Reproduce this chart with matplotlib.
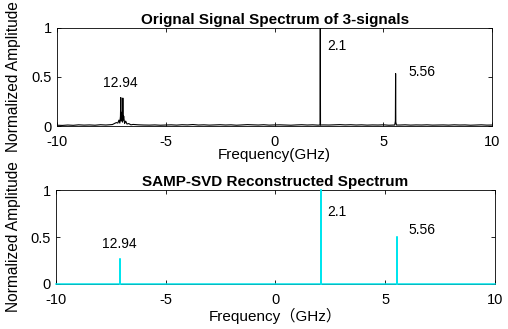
# -*- coding: utf-8 -*-
"""
original vs SAMP-SVD reconstructed spectrum of 3 signals
"""

import numpy as np
import matplotlib.pyplot as plt

plt.rcParams['font.family'] = ['Liberation Sans', 'Noto Sans CJK SC']
plt.rcParams['axes.unicode_minus'] = False

# noise floor of the original spectrum, one value every 0.25 GHz from -10 to 10
floor_amp = [0.008, 0.006, 0.010, 0.007, 0.012, 0.009, 0.011, 0.008, 0.013, 0.010,
             0.014, 0.012, 0.018, 0.020, 0.016, 0.012, 0.010, 0.009, 0.011, 0.008,
             0.010, 0.012, 0.009, 0.013, 0.011, 0.015, 0.010, 0.012, 0.009, 0.011,
             0.013, 0.010, 0.012, 0.008, 0.011, 0.014, 0.012, 0.010, 0.013, 0.009,
             0.011, 0.012, 0.010, 0.008, 0.011, 0.013, 0.010, 0.012, 0.009, 0.011,
             0.010, 0.012, 0.014, 0.011, 0.013, 0.010, 0.012, 0.009, 0.011, 0.010,
             0.012, 0.008, 0.011, 0.010, 0.012, 0.009, 0.011, 0.010, 0.012, 0.009,
             0.010, 0.011, 0.009, 0.012, 0.010, 0.011, 0.008, 0.010, 0.012, 0.009,
             0.010]

# peak regions of the original spectrum (GHz, normalized amplitude)
peak_freq = [-7.45, -7.36, -7.27, -7.20, -7.15, -7.11, -7.08, -7.065, -7.05, -7.02,
             -6.985, -6.97, -6.955, -6.93, -6.89, -6.84, -6.78, -6.70, -6.60,
             2.09, 2.10, 2.11,
             5.52, 5.55, 5.56, 5.57, 5.60]
peak_amp = [0.015, 0.025, 0.035, 0.030, 0.060, 0.030, 0.100, 0.290, 0.050, 0.140,
            0.040, 0.285, 0.060, 0.100, 0.025, 0.050, 0.020, 0.025, 0.012,
            0.010, 1.000, 0.010,
            0.010, 0.050, 0.535, 0.040, 0.010]

# reconstructed spectrum: single lines
rec_freq = [-7.06, 2.10, 5.56]
rec_amp = [0.27, 1.00, 0.50]

labels = ['12.94', '2.1', '5.56']

# build the original trace
floor_freq = np.linspace(-10, 10, len(floor_amp))
keep = np.ones(len(floor_freq), bool)
for lo, hi in [(-7.5, -6.55), (2.0, 2.2), (5.45, 5.65)]:
    keep &= ~((floor_freq > lo) & (floor_freq < hi))
orig_f = np.concatenate([floor_freq[keep], peak_freq])
orig_a = np.concatenate([np.array(floor_amp)[keep], peak_amp])
order = np.argsort(orig_f)
orig_f, orig_a = orig_f[order], orig_a[order]

# reconstructed trace as stems on a zero baseline
rf = [-10.0]
ra = [0.0]
for f, a in zip(rec_freq, rec_amp):
    rf += [f, f, f]
    ra += [0.0, a, 0.0]
rf.append(10.0)
ra.append(0.0)

fig = plt.figure(figsize=(5.08, 3.29), dpi=100)
ax1 = fig.add_axes([0.112, 0.617, 0.857, 0.298])
ax2 = fig.add_axes([0.110, 0.137, 0.864, 0.285])

ax1.plot(orig_f, orig_a, color='black', lw=0.8)
ax2.plot(rf, ra, color='#00e5ee', lw=1.1, zorder=3, clip_on=False)

ax1.text(-7.1, 0.44, labels[0], ha='center', va='center', fontsize=10)
ax1.text(2.4, 0.82, labels[1], ha='left', va='center', fontsize=10)
ax1.text(6.15, 0.55, labels[2], ha='left', va='center', fontsize=10)
ax2.text(-7.1, 0.43, labels[0], ha='center', va='center', fontsize=10)
ax2.text(2.35, 0.77, labels[1], ha='left', va='center', fontsize=10)
ax2.text(6.05, 0.57, labels[2], ha='left', va='center', fontsize=10)

ax1.set_title('Orignal Signal Spectrum of 3-signals', fontsize=11, fontweight='bold', pad=3)
ax2.set_title('SAMP-SVD Reconstructed Spectrum', fontsize=11, fontweight='bold', pad=3)
ax1.set_xlabel('Frequency(GHz)', fontsize=11, labelpad=-1)
ax2.set_xlabel('Frequency（GHz）', fontsize=11, labelpad=0.5)

for ax in (ax1, ax2):
    ax.set_xlim(-10, 10)
    ax.set_ylim(0, 1)
    ax.set_xticks([-10, -5, 0, 5, 10])
    ax.set_yticks([0, 0.5, 1])
    ax.set_yticklabels(['0', '0.5', '1'])
    ax.tick_params(direction='in', top=True, right=True, labelsize=10.5, length=3, width=0.6)
    ax.tick_params(axis='x', pad=6.5)
    ax.set_ylabel('Normalized Amplitude', fontsize=11.2)
    for s in ax.spines.values():
        s.set_linewidth(0.6)

ax1.yaxis.set_label_coords(-0.082, 0.5)
ax2.yaxis.set_label_coords(-0.079, 0.5)

fig.savefig('out.png', dpi=100)
